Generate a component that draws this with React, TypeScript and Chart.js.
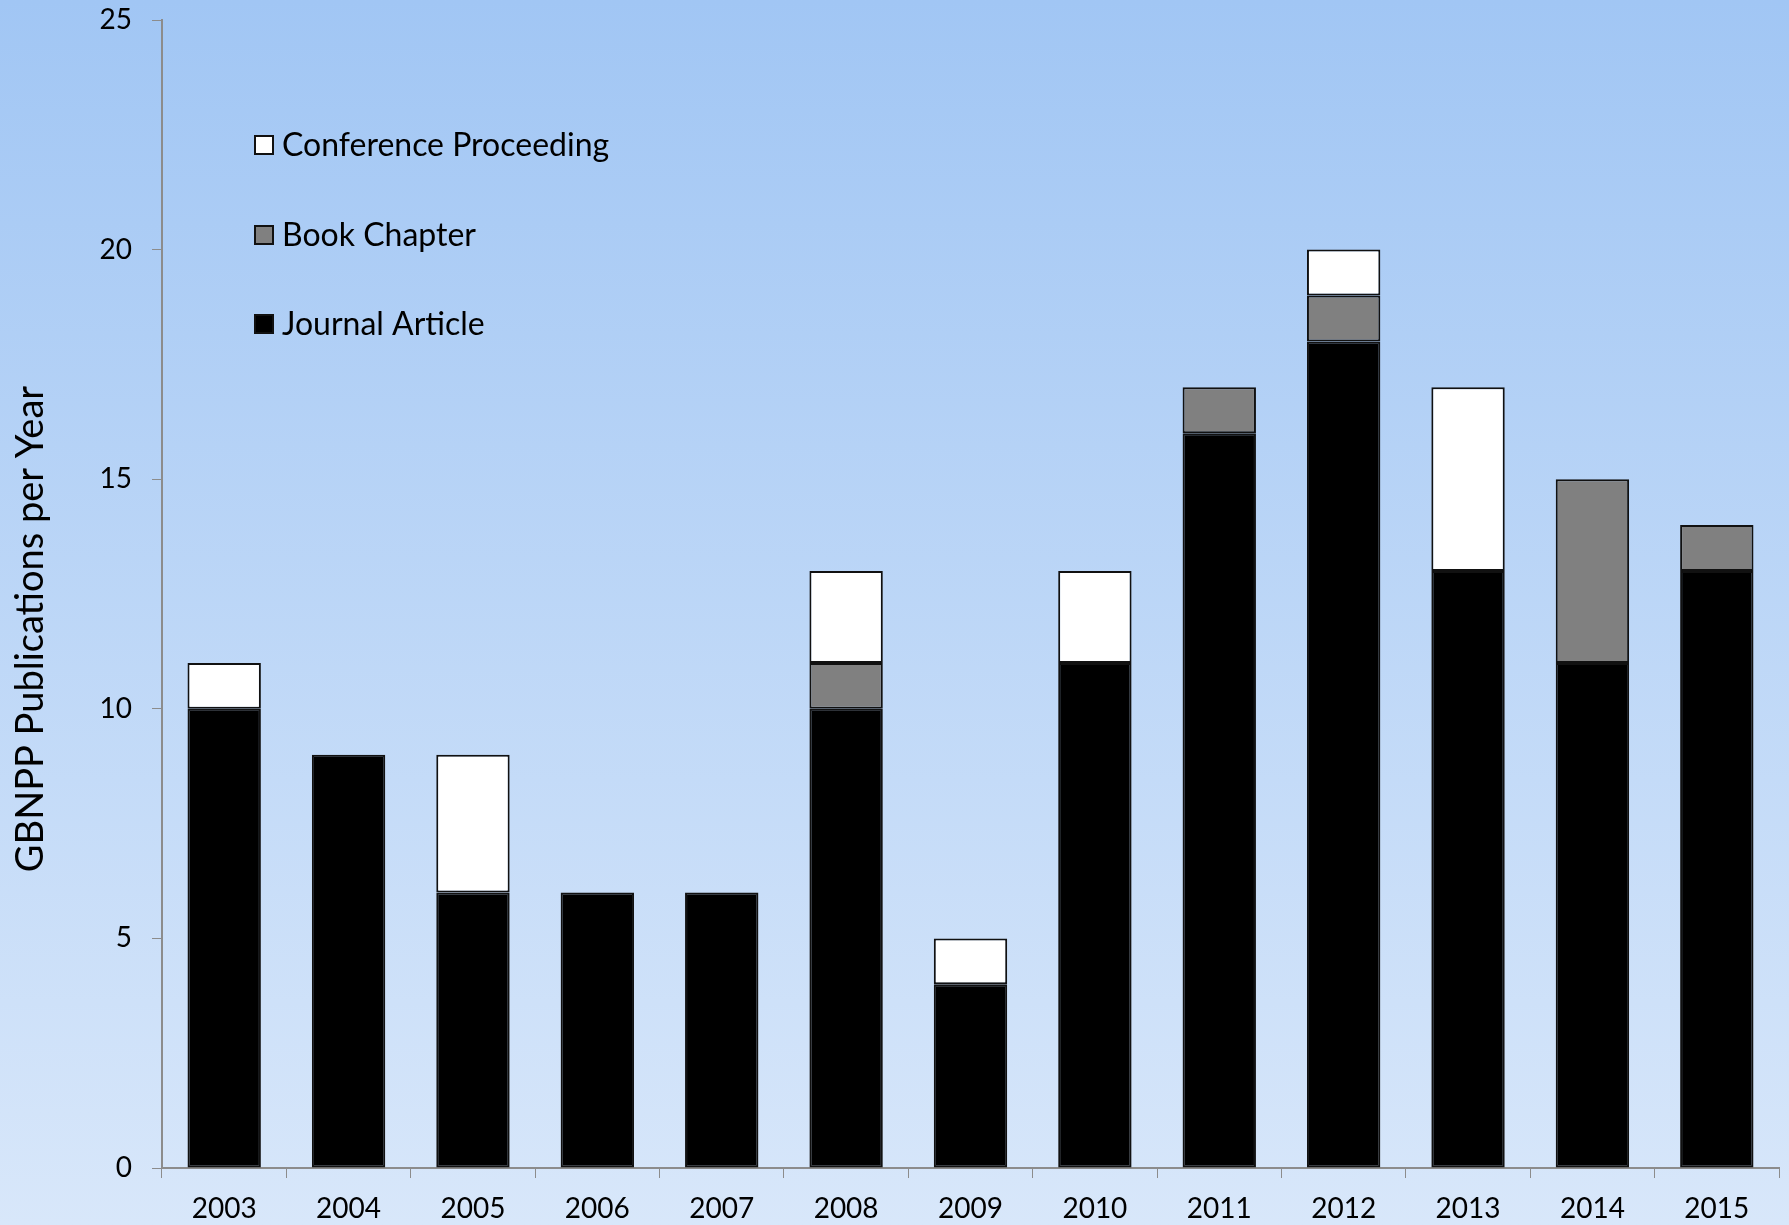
import React, { useEffect, useRef } from "react";
import { Chart, registerables } from "chart.js";

Chart.register(...registerables);

const years = ["2003", "2004", "2005", "2006", "2007", "2008", "2009", "2010", "2011", "2012", "2013", "2014", "2015"];
const journalArticles = [10, 9, 6, 6, 6, 10, 4, 11, 16, 18, 13, 11, 13];
const bookChapters = [0, 0, 0, 0, 0, 1, 0, 0, 1, 1, 0, 4, 1];
const conferenceProceedings = [1, 0, 3, 0, 0, 2, 1, 2, 0, 1, 4, 0, 0];
const yTicks = [0, 5, 10, 15, 20, 25];
const yTitle = "GBNPP Publications per Year";

const FONT = "Lato, 'Open Sans', sans-serif";

const legendPlugin = {
  id: "insideLegend",
  afterDraw(chart: any) {
    const ctx = chart.ctx;
    const items = [
      { label: "Conference Proceeding", color: "#ffffff", y: 145 },
      { label: "Book Chapter", color: "#808080", y: 235 },
      { label: "Journal Article", color: "#000000", y: 324 },
    ];
    ctx.save();
    ctx.font = `32px ${FONT}`;
    ctx.textBaseline = "middle";
    ctx.textAlign = "left";
    for (const it of items) {
      ctx.fillStyle = it.color;
      ctx.fillRect(255, it.y - 9, 18, 18);
      ctx.strokeStyle = "#111111";
      ctx.lineWidth = 2;
      ctx.strokeRect(255, it.y - 9, 18, 18);
      ctx.fillStyle = "#000000";
      ctx.fillText(it.label, 282, it.y + 1);
    }
    // y-axis title
    ctx.translate(31, 629);
    ctx.rotate(-Math.PI / 2);
    ctx.font = `38px ${FONT}`;
    ctx.textAlign = "center";
    ctx.fillText(yTitle, 0, 0);
    ctx.restore();
  },
};

export default function App() {
  const ref = useRef<HTMLCanvasElement | null>(null);

  useEffect(() => {
    document.body.style.margin = "0";
    if (!ref.current) return;
    const ds = (label: string, data: number[], color: string) => ({
      label,
      data,
      backgroundColor: color,
      borderColor: "#111111",
      borderWidth: 2,
      borderSkipped: false as any,
      barPercentage: 0.59,
      categoryPercentage: 1,
    });
    const chart = new Chart(ref.current, {
      type: "bar",
      data: {
        labels: years,
        datasets: [
          ds("Journal Article", journalArticles, "#000000"),
          ds("Book Chapter", bookChapters, "#808080"),
          ds("Conference Proceeding", conferenceProceedings, "#ffffff"),
        ],
      },
      options: {
        animation: false,
        responsive: false,
        maintainAspectRatio: false,
        layout: { padding: { top: 20, right: 10, left: 0, bottom: 0 } },
        plugins: {
          legend: { display: false },
          tooltip: { enabled: false },
        },
        scales: {
          x: {
            stacked: true,
            grid: {
              display: true,
              drawOnChartArea: false,
              drawTicks: true,
              tickLength: 10,
              color: "#8c8c8c",
              offset: true,
            },
            border: { color: "#8c8c8c", width: 2 },
            ticks: {
              color: "#000000",
              font: { family: FONT, size: 28 },
              padding: 14,
              maxRotation: 0,
            },
            afterFit(scale: any) {
              scale.height = 57;
            },
          },
          y: {
            stacked: true,
            min: 0,
            max: 25,
            afterBuildTicks(scale: any) {
              scale.ticks = yTicks.map((v) => ({ value: v }));
            },
            grid: {
              display: true,
              drawOnChartArea: false,
              drawTicks: true,
              tickLength: 10,
              color: "#8c8c8c",
            },
            border: { color: "#8c8c8c", width: 2 },
            ticks: {
              color: "#000000",
              font: { family: FONT, size: 28, lineHeight: 0.6 },
              padding: 20,
            },
            afterFit(scale: any) {
              scale.width = 162;
              scale.paddingTop = 0;
              scale.paddingBottom = 0;
            },
          },
        },
      },
      plugins: [legendPlugin],
    });
    return () => chart.destroy();
  }, []);

  return (
    <div
      style={{
        width: 1789,
        height: 1225,
        background: "linear-gradient(to bottom, #a1c6f4 0%, #d8e7fa 100%)",
        position: "relative",
      }}
    >
      <canvas ref={ref} width={1789} height={1225} style={{ display: "block" }} />
    </div>
  );
}
